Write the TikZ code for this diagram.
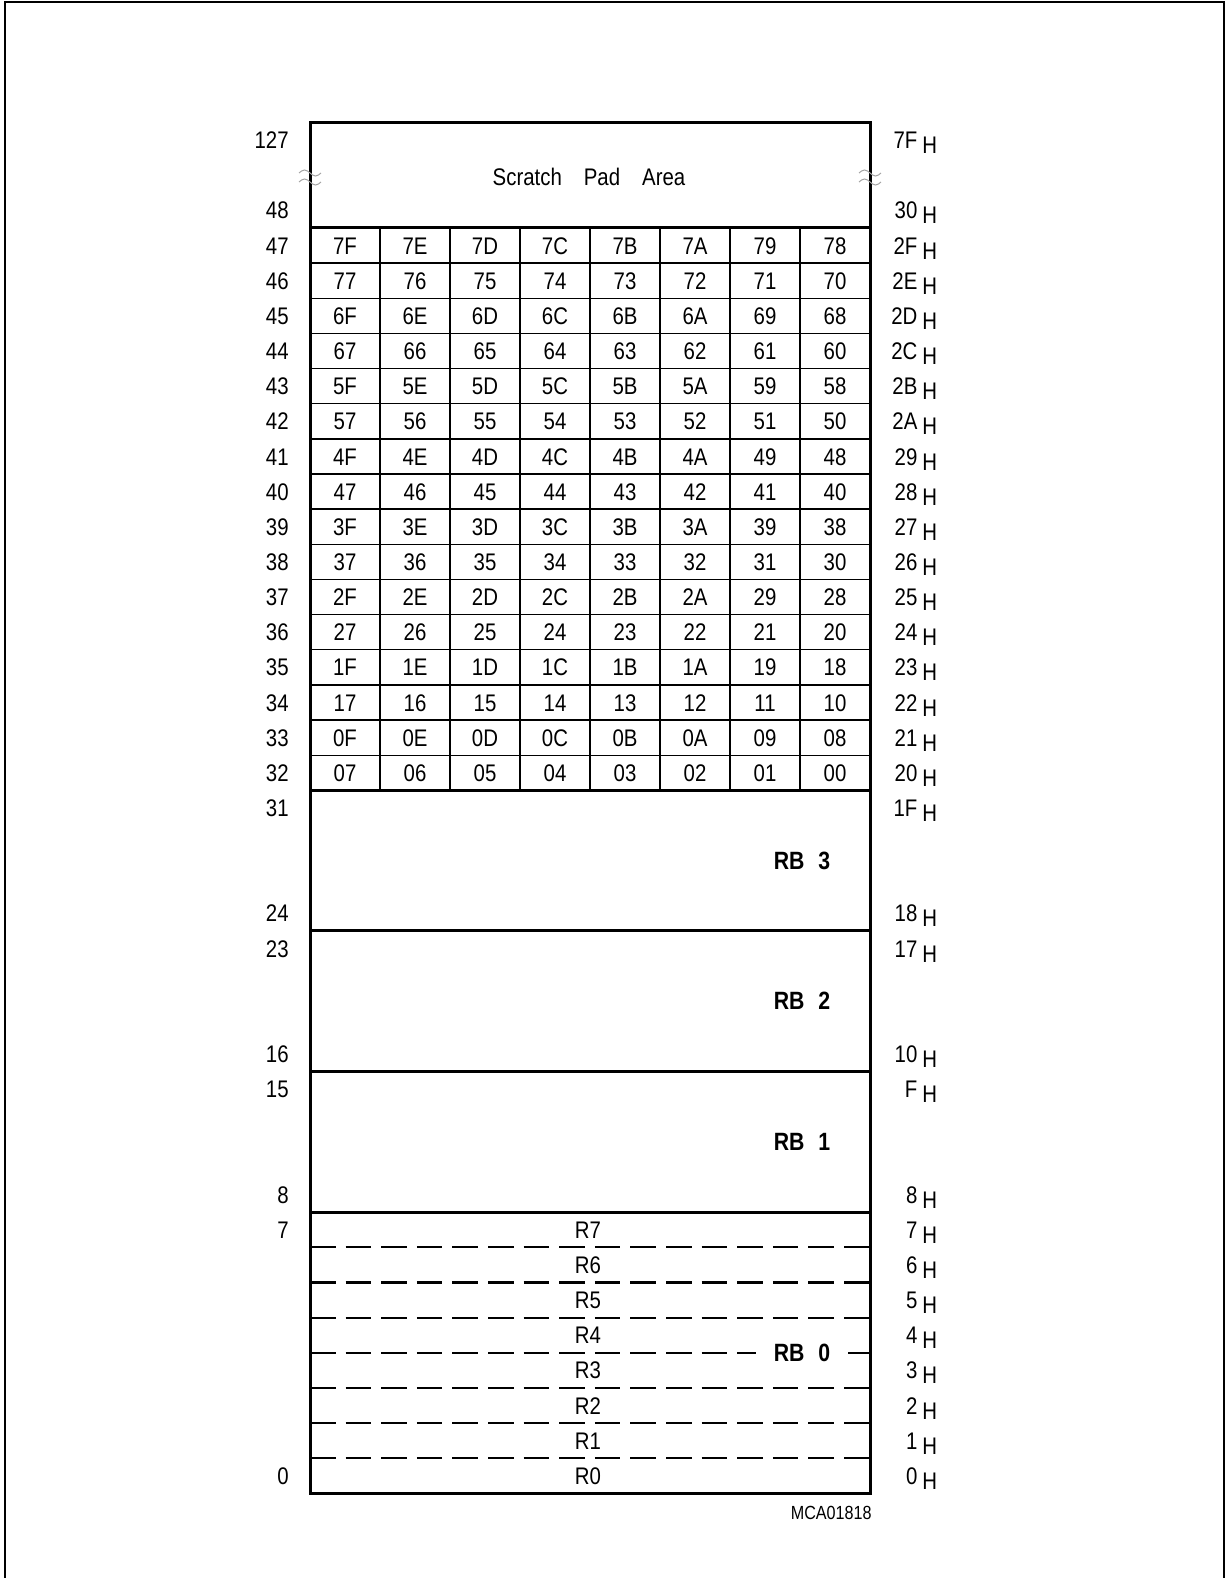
\documentclass[tikz,border=0pt]{standalone}
\usepackage{fontspec}
\setmainfont[FakeStretch=0.85]{Liberation Sans}
\usepackage{tikz}
\usetikzlibrary{positioning}
\tikzstyle{lab} = [inner sep=0pt, font=\fontsize{12}{14}\selectfont]
\tikzstyle{declab} = [lab, anchor=base east]
\tikzstyle{hexlab} = [lab, anchor=base west]
\tikzstyle{cell} = [lab, anchor=base]
\tikzstyle{bank} = [inner sep=0pt, font=\fontsize{12.5}{14}\selectfont\bfseries]
\tikzstyle{frame} = [line width=1.2pt]
\tikzstyle{heavy} = [line width=1.5pt]
\tikzstyle{gridline} = [line width=0.7pt]
\tikzstyle{regline} = [line width=1.1pt, dash pattern=on 12.8pt off 5pt]
\tikzstyle{tilde} = [gray!70, line width=0.5pt]
\newcommand{\hx}[1]{\llap{#1}\hspace{2.5pt}\raisebox{-2.5pt}{H}}

\begin{document}
\begin{tikzpicture}[x=0.5pt,y=-0.5pt]
\useasboundingbox (0,0) rectangle (1229,1578);
\draw[frame] (5,1578) -- (5,2) -- (1224,2) -- (1224,1578);
% slot rows: one slot = 35.15px, slot 0 at top of box
\begin{scope}[shift={(0,122.5)}, y=-17.575pt]
\draw[heavy] (310,0) rectangle (870,39);
\foreach \s in {3,19,23,27,31} \draw[heavy] (310,\s) -- (870,\s);
\foreach \s in {4,...,18} \draw[gridline] (310,\s) -- (870,\s);
\foreach \i in {1,...,7} \draw[gridline] ({310+70*\i},3) -- ({310+70*\i},19);
\foreach \s in {32,...,38} \draw[regline] (310,\s) -- (870,\s);
\node[lab] (scratch) at (589,1.55) {Scratch\hspace{11pt}Pad\hspace{11pt}Area};
% bit addressable area
\foreach \k in {0,...,15} {
  \pgfmathtruncatemacro\hi{\k/2}
  \pgfmathtruncatemacro\odd{mod(\k,2)}
  \foreach \c/\lo/\up in {0/7/F,1/6/E,2/5/D,3/4/C,4/3/B,5/2/A,6/1/9,7/0/8}
    \node[cell] (c\k-\c) at ({345+70*\c},{18-\k+0.745}) {\hi\ifnum\odd=1 \up\else\lo\fi};
}
\foreach \k/\h in {0/0,1/1,2/2,3/3,4/4,5/5,6/6,7/7,8/8,9/9,10/A,11/B,12/C,13/D,14/E,15/F} {
  \pgfmathtruncatemacro\dec{32+\k}
  \node[declab] (d\dec) at (289,{18-\k+0.745}) {\dec};
  \node[hexlab] (h\dec) at (917,{18-\k+0.745}) {\hx{2\h}};
}
\node[declab] (d127) at (289,0.745) {127};
\node[declab] (d48) at (289,2.745) {48};
\node[declab] (d31) at (289,19.745) {31};
\node[declab] (d24) at (289,22.745) {24};
\node[declab] (d23) at (289,23.745) {23};
\node[declab] (d16) at (289,26.745) {16};
\node[declab] (d15) at (289,27.745) {15};
\node[declab] (d8) at (289,30.745) {8};
\node[declab] (d7) at (289,31.745) {7};
\node[declab] (d0) at (289,38.745) {0};
\node[hexlab] (h127) at (917,0.745) {\hx{7F}};
\node[hexlab] (h48) at (917,2.745) {\hx{30}};
\node[hexlab] (h31) at (917,19.745) {\hx{1F}};
\node[hexlab] (h24) at (917,22.745) {\hx{18}};
\node[hexlab] (h23) at (917,23.745) {\hx{17}};
\node[hexlab] (h16) at (917,26.745) {\hx{10}};
\node[hexlab] (h15) at (917,27.745) {\hx{F}};
\node[hexlab] (h8) at (917,30.745) {\hx{8}};
% register bank 0
\foreach \r in {0,...,7} {
  \node[cell] (r\r) at (588,{38-\r+0.745}) {R\r};
  \node[hexlab] (h\r) at (917,{38-\r+0.745}) {\hx{\r}};
}
\node[bank] (rb3) at (802,21) {RB\hspace{7pt}3};
\node[bank] (rb2) at (802,25) {RB\hspace{7pt}2};
\node[bank] (rb1) at (802,29) {RB\hspace{7pt}1};
\node[bank, fill=white, inner xsep=9pt, inner ysep=2pt] (rb0) at (802,35) {RB\hspace{7pt}0};
\end{scope}
% break marks
\foreach \ex in {310,870} {
  \draw[tilde] ({\ex-11},173) sin ({\ex-5.5},170) cos (\ex,173) sin ({\ex+5.5},176) cos ({\ex+11},173);
  \draw[tilde] ({\ex-11},182) sin ({\ex-5.5},179) cos (\ex,182) sin ({\ex+5.5},185) cos ({\ex+11},182);
}
\node[lab, font=\fontsize{9.5}{11}\selectfont, anchor=east] (mca) at (872,1513) {MCA01818};
\end{tikzpicture}
\end{document}
